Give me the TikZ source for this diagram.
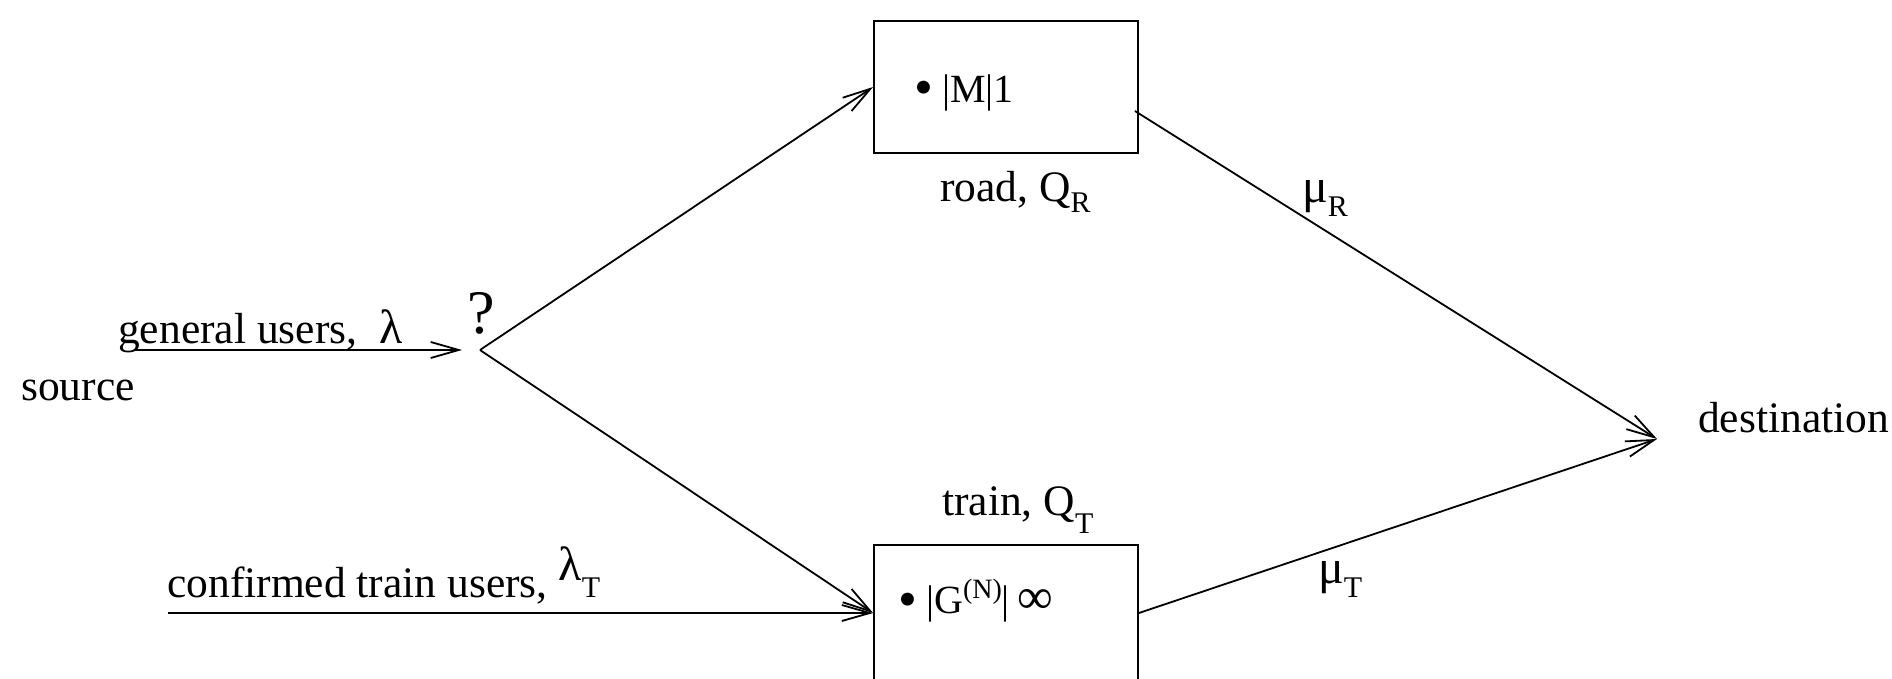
\documentclass[tikz,border=0pt]{standalone}
\usepackage{fontspec}
\setmainfont{Liberation Serif}
\usetikzlibrary{arrows.meta}
\newcommand{\lowsub}[2]{\raisebox{-#1}{\fontsize{30}{30}\selectfont #2}}
\newcommand{\gk}[1]{{\fontsize{48}{50}\selectfont #1}}
\begin{document}
\begin{tikzpicture}[x=1pt,y=-1pt,
  txt/.style={inner sep=0pt, anchor=base west, font=\fontsize{43.5}{50}\selectfont},
  btxt/.style={inner sep=0pt, anchor=base west, font=\fontsize{40}{44}\selectfont},
  bdot/.style={inner sep=0pt, anchor=base, font=\fontsize{54}{54}\selectfont},
  qbox/.style={draw, line width=1.8pt, minimum width=264pt, minimum height=132pt, inner sep=0pt},
  arr/.style={line width=1.8pt, -{Straight Barb[length=28pt,width=16pt]}}]
\useasboundingbox (0,0) rectangle (1892,679);
% boxes
\node[qbox] (road) at (1006,87) {};
\node[qbox, minimum height=136pt] (train) at (1006,613) {};
% box contents
\node[bdot] (dotM) at (924,106) {•};
\node[btxt] (bM) at (942,103) {|M|1};
\node[bdot] (dotG) at (908,617) {•};
\node[btxt] (bG) at (926,613) {|G\raisebox{15pt}{\fontsize{28}{28}\selectfont (N)}|\kern8pt{\fontsize{50}{50}\selectfont ∞}};
% labels
\node[txt] (src) at (21,400) {source};
\node[txt] (gen) at (118,343) {general users,\ \ \gk{λ}};
\node[txt] (conf) at (167,597) {confirmed train users,\ \raisebox{17pt}{\gk{λ}}\lowsub{0pt}{T}};
\node[txt] (q) at (467,333) {\fontsize{62}{70}\selectfont ?};
\node[txt] (roadlbl) at (940,202) {road, Q\lowsub{11pt}{R}};
\node[txt] (trainlbl) at (942,515) {train, Q\lowsub{18pt}{T}};
\node[txt] (muR) at (1302,203) {\gk{μ}\lowsub{14pt}{R}};
\node[txt] (muT) at (1318,583) {\gk{μ}\lowsub{14pt}{T}};
\node[txt] (dest) at (1698,432) {destination};
% coordinates
\coordinate (gin) at (135,350);
\coordinate (gtip) at (462,350);
\coordinate (J) at (480,350);
\coordinate (cin) at (168,613);
\coordinate (dtip) at (1657,439);
% connectors
\draw[arr] (gin) -- (gtip);
\draw[arr] (J) -- (road.west);
\draw[arr] (J) -- (train.west);
\draw[arr] (cin) -- (train.west);
\draw[arr] ([xshift=-4pt,yshift=-24pt]road.east) -- (dtip);
\draw[arr] (train.east) -- (dtip);
\end{tikzpicture}
\end{document}
